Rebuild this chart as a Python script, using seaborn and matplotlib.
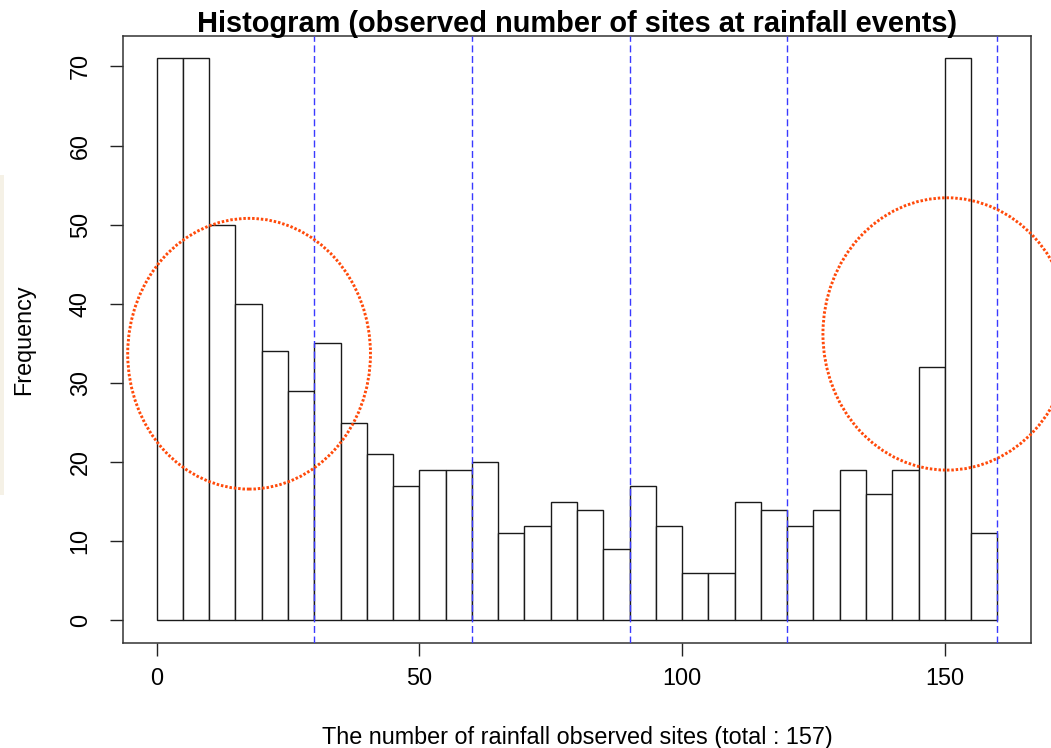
import matplotlib
matplotlib.use("Agg")
import matplotlib.pyplot as plt
from matplotlib.patches import Ellipse, Rectangle
import numpy as np
import pandas as pd
import seaborn as sns

# Histogram bins (number of sites per event, width 5) and their counts
bin_edges = [0, 5, 10, 15, 20, 25, 30, 35, 40, 45, 50, 55, 60, 65, 70, 75, 80,
             85, 90, 95, 100, 105, 110, 115, 120, 125, 130, 135, 140, 145, 150,
             155, 160]
counts = [71, 71, 50, 40, 34, 29, 35, 25, 21, 17, 19, 19, 20, 11, 12, 15, 14,
          9, 17, 12, 6, 6, 15, 14, 12, 14, 19, 16, 19, 32, 71, 11]

# Reference lines along the x axis
split_lines = [30, 60, 90, 120, 160]

# Highlighted regions: (centre x, centre y, width, height)
highlight_left = (17.6, 33.7, 46.2, 34.2)
highlight_right = (150.4, 36.2, 47.2, 34.4)

x_ticks = [0, 50, 100, 150]
y_ticks = [0, 10, 20, 30, 40, 50, 60, 70]

title = "Histogram (observed number of sites at rainfall events)"
x_label = "The number of rainfall observed sites (total : 157)"
y_label = "Frequency"

sns.set_style("white")
plt.rcParams["font.family"] = ["Liberation Sans", "DejaVu Sans"]
plt.rcParams["text.color"] = "black"
plt.rcParams["axes.labelcolor"] = "black"
plt.rcParams["xtick.color"] = "black"
plt.rcParams["ytick.color"] = "black"

fig = plt.figure(figsize=(10.51, 7.48), dpi=100)
ax = fig.add_axes([0.117, 0.1404, 0.864, 0.8115])

edges = np.array(bin_edges, dtype=float)
df = pd.DataFrame({"sites": (edges[:-1] + edges[1:]) / 2, "n": counts})
sns.histplot(data=df, x="sites", weights="n", bins=bin_edges, stat="count",
             color="white", edgecolor="#1a1a1a", linewidth=1.0, alpha=1.0,
             ax=ax, zorder=2)

for xv in split_lines:
    ax.axvline(xv, color="#3a3aff", linewidth=1.0, linestyle=(0, (5, 2.6)),
               zorder=3)

for cx, cy, w, h in (highlight_left, highlight_right):
    e = Ellipse((cx, cy), w, h, fill=False, edgecolor="#ff4a0a",
                linewidth=2.1, linestyle=(0, (0.85, 0.65)),
                clip_on=False, zorder=4)
    e.set_capstyle("butt")
    ax.add_patch(e)

ax.set_xlim(-6.4, 166.4)
ax.set_ylim(-2.84, 73.84)
ax.set_xticks(x_ticks)
ax.set_yticks(y_ticks)
ax.set_xticklabels([str(v) for v in x_ticks], fontsize=16.8)
ax.set_yticklabels([str(v) for v in y_ticks], fontsize=16.8, rotation=90,
                   va="center")
ax.tick_params(axis="both", direction="out", length=9.5, width=1.0,
               color="#222222", bottom=True, left=True)
ax.tick_params(axis="x", pad=8)
ax.tick_params(axis="y", pad=13)

for s in ax.spines.values():
    s.set_visible(True)
    s.set_color("#333333")
    s.set_linewidth(1.1)

ax.set_title(title, fontsize=20.9, fontweight="bold", pad=3)
ax.set_xlabel(x_label, fontsize=16.8, labelpad=26)
ax.set_ylabel(y_label, fontsize=16.8, labelpad=24)
ax.grid(False)

# faint strip along the left margin
fig.patches.append(Rectangle((0, 0.338), 0.004, 0.428, transform=fig.transFigure,
                             facecolor="#efe9d6", edgecolor="none", alpha=0.6))

fig.savefig("out.png", dpi=100, facecolor="white")
